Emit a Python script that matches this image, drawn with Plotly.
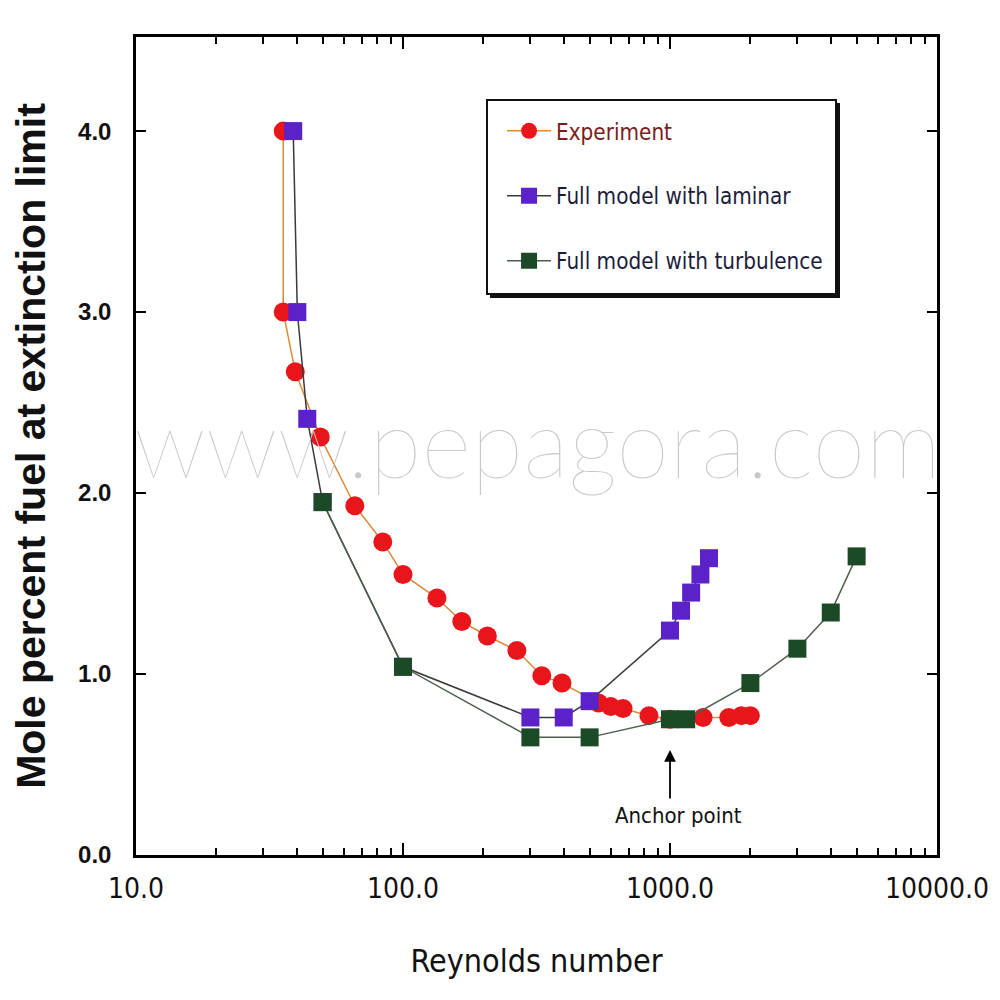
import plotly.graph_objects as go

# ---- data ----
exp_re = [35.6, 35.6, 39.5, 49, 66, 84, 100, 134, 166, 207, 267, 331, 394,
          540, 600, 667, 834, 1000, 1330, 1660, 1850, 2000]
exp_y = [4.0, 3.0, 2.67, 2.31, 1.93, 1.73, 1.55, 1.42, 1.29, 1.21, 1.13, 0.99, 0.95,
         0.84, 0.82, 0.81, 0.77, 0.75, 0.76, 0.76, 0.77, 0.77]

lam_re = [38.8, 40.2, 43.8, 50, 100, 300, 400, 500, 1000, 1100, 1200, 1300, 1400]
lam_y = [4.0, 3.0, 2.41, 1.95, 1.04, 0.76, 0.76, 0.85, 1.24, 1.35, 1.45, 1.55, 1.64]

tur_re = [50, 100, 300, 500, 1000, 1150, 2000, 3000, 4000, 5000]
tur_y = [1.95, 1.04, 0.65, 0.65, 0.75, 0.75, 0.95, 1.14, 1.34, 1.65]

series_names = ["Experiment", "Full model with laminar", "Full model with turbulence"]
x_tick_vals = [10, 100, 1000, 10000]
x_tick_text = ["10.0", "100.0", "1000.0", "10000.0"]
y_tick_vals = [0, 1, 2, 3, 4]
y_tick_text = ["0.0", "1.0", "2.0", "3.0", "4.0"]
anchor_re, anchor_y, anchor_label = 1000, 0.58, "Anchor point"

NARROW = "DejaVu Sans Condensed, Liberation Sans Narrow, Liberation Sans, sans-serif"
BOLD = "Liberation Sans, Arial, sans-serif"

fig = go.Figure()
fig.add_trace(go.Scatter(
    x=exp_re, y=exp_y, mode="lines+markers",
    name="<span style='color:#7a1c1c'>" + series_names[0] + "</span>",
    legendgroup="a",
    line=dict(color="#d98a3a", width=1.5),
    marker=dict(symbol="circle", size=19, color="#e8161b")))
fig.add_trace(go.Scatter(
    x=lam_re, y=lam_y, mode="lines+markers",
    name="<span style='color:#1c1c3a'>" + series_names[1] + "</span>",
    legendgroup="b",
    line=dict(color="#3a3a3a", width=1.5),
    marker=dict(symbol="square", size=18, color="#5a22c8")))
fig.add_trace(go.Scatter(
    x=tur_re, y=tur_y, mode="lines+markers",
    name="<span style='color:#1c1c3a'>" + series_names[2] + "</span>",
    legendgroup="c",
    line=dict(color="#4f5e4f", width=1.5),
    marker=dict(symbol="square", size=18, color="#1d4a26")))

minor_vals = [m * d for d in (10, 100, 1000) for m in range(2, 10)]

fig.update_layout(
    width=1000, height=1000,
    margin=dict(l=136, r=63, t=37, b=145),
    paper_bgcolor="white", plot_bgcolor="white",
    showlegend=True,
    legend=dict(x=0.457, y=0.911, xanchor="left", yanchor="top",
                bgcolor="rgba(0,0,0,0)", borderwidth=0,
                font=dict(family=NARROW, size=22.3, color="#1c1c3a"),
                tracegroupgap=33, itemwidth=44),
    xaxis=dict(type="log", range=[1, 4], showgrid=False, zeroline=False,
               showline=True, linecolor="black", linewidth=2.5, mirror="ticks",
               ticks="inside", ticklen=12, tickwidth=1.5, tickcolor="black",
               tickvals=x_tick_vals, ticktext=x_tick_text,
               minor=dict(tickvals=minor_vals, ticks="inside", ticklen=7,
                          tickwidth=1.5, tickcolor="black"),
               tickfont=dict(family=NARROW, size=28, color="#111"),
               ticklabelstandoff=7,
               title=dict(text="Reynolds number", standoff=46,
                          font=dict(family=NARROW, size=32, color="#111"))),
    yaxis=dict(range=[0, 4.52], showgrid=False, zeroline=False,
               showline=True, linecolor="black", linewidth=2.5, mirror="ticks",
               ticks="inside", ticklen=10, tickwidth=2, tickcolor="black",
               tickvals=y_tick_vals, ticktext=y_tick_text,
               tickfont=dict(family=BOLD, size=24, color="#111", weight="bold"),
               ticklabelstandoff=17,
               title=dict(text="<b>Mole percent fuel at extinction limit</b>", standoff=20,
                          font=dict(family=BOLD, size=41, color="#111"))),
)

# legend frame with drop shadow (pixel positions converted to paper coordinates)
def px(xp):
    return (xp - 136) / 801.0
def py(yp):
    return (855 - yp) / 818.0

fig.add_shape(type="rect", xref="paper", yref="paper", layer="below",
              x0=px(490), x1=px(840), y0=py(298), y1=py(103),
              fillcolor="#111", line=dict(width=0))
fig.add_shape(type="rect", xref="paper", yref="paper", layer="below",
              x0=px(487), x1=px(836), y0=py(294), y1=py(100),
              fillcolor="white", line=dict(color="#111", width=2))

# watermark
fig.add_annotation(xref="paper", yref="paper", x=px(537), y=py(440),
                   text="www.pepagora.com", showarrow=False,
                   font=dict(family="Lato, sans-serif", size=96, color="#c8c8c8", weight=200))

# anchor point arrow + label
fig.add_annotation(x=3, y=anchor_y, xref="x", yref="y", text="",
                   showarrow=True, ax=0, ay=50, arrowhead=2, arrowsize=1.3,
                   arrowwidth=1.8, arrowcolor="black")
fig.add_annotation(x=3, y=0.22, xref="x", yref="y", text=anchor_label, xshift=8,
                   showarrow=False, font=dict(family=NARROW, size=22, color="#111"))

fig.write_html("out.html")
